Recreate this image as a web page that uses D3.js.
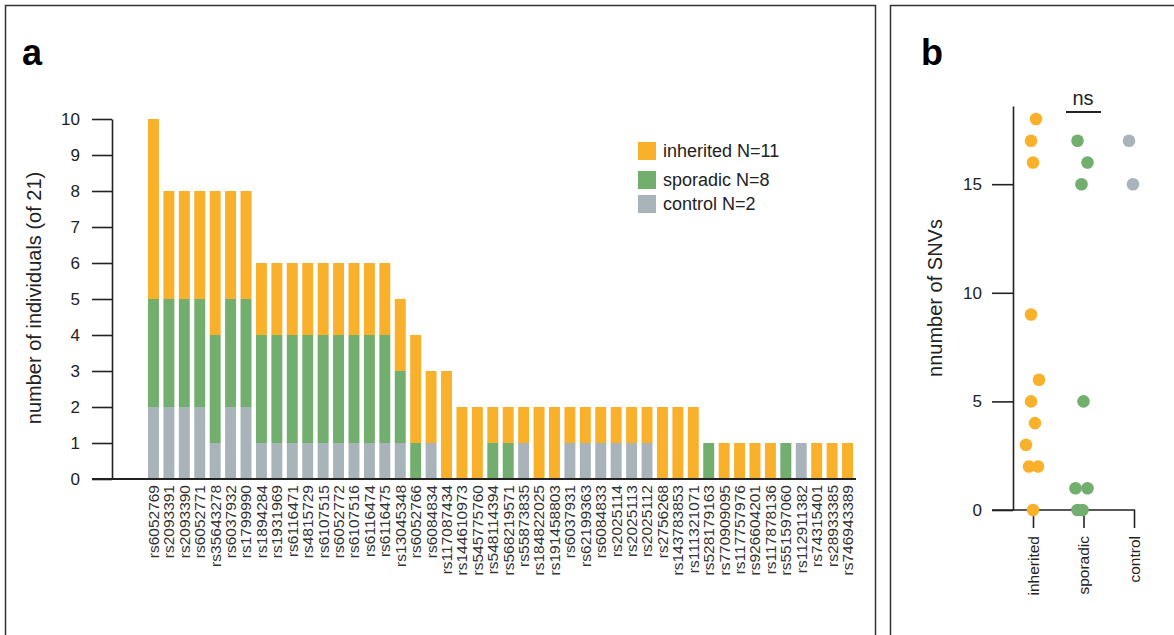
<!DOCTYPE html>
<html>
<head>
<meta charset="utf-8">
<script src="https://cdn.jsdelivr.net/npm/d3@7"></script>
<style>
  body { margin: 0; background: #fff; }
  text { font-family: "Liberation Sans", Arial, sans-serif; fill: #222; }
</style>
</head>
<body>
<div id="chart"></div>
<script>
//data - panel a
var snps = ["rs6052769","rs2093391","rs2093390","rs6052771","rs35643278","rs6037932","rs1799990",
  "rs1894284","rs1931969","rs6116471","rs4815729","rs6107515","rs6052772","rs6107516","rs6116474",
  "rs6116475","rs13045348","rs6052766","rs6084834","rs117087434","rs144610973","rs545775760",
  "rs548114394","rs568219571","rs55873835","rs184822025","rs191458803","rs6037931","rs62199363",
  "rs6084833","rs2025114","rs2025113","rs2025112","rs2756268","rs143783853","rs111321071",
  "rs528179163","rs770909095","rs117757976","rs926604201","rs117878136","rs551597060",
  "rs112911382","rs74315401","rs28933385","rs746943389"];
var controlCounts   = [2,2,2,2,1,2,2,1,1,1,1,1,1,1,1,1,1,0,1,0,0,0,0,0,1,0,0,1,1,1,1,1,1,0,0,0,0,0,0,0,0,0,1,0,0,0];
var sporadicCounts  = [3,3,3,3,3,3,3,3,3,3,3,3,3,3,3,3,2,1,0,0,0,0,1,1,0,0,0,0,0,0,0,0,0,0,0,0,1,0,0,0,0,1,0,0,0,0];
var inheritedCounts = [5,3,3,3,4,3,3,2,2,2,2,2,2,2,2,2,2,3,2,3,2,2,1,1,1,2,2,1,1,1,1,1,1,2,2,2,0,1,1,1,1,0,0,1,1,1];
var yTicksA = [0,1,2,3,4,5,6,7,8,9,10];
var legendLabels = ["inherited N=11", "sporadic N=8", "control N=2"];

//data - panel b
var groups = ["inherited", "sporadic", "control"];
var inheritedSNVs = [18,17,16,9,6,5,4,3,2,2,0];
var sporadicSNVs  = [17,16,15,5,1,1,0,0];
var controlSNVs   = [17,15];
var yTicksB = [0,5,10,15];

//colours
var colors = {inherited: "#F9B12C", sporadic: "#72AE6D", control: "#A8B4BA"};

//reformat data for stacking
var dataset = [];
for (var i = 0; i < snps.length; i++) {
  dataset.push({
    snp: snps[i],
    control: controlCounts[i],
    sporadic: sporadicCounts[i],
    inherited: inheritedCounts[i]
  });
}
var stack = d3.stack().keys(["control", "sporadic", "inherited"]);
var series = stack(dataset);

var svg = d3.select("#chart").append("svg")
  .attr("width", 1174)
  .attr("height", 635);

//panel frames
svg.append("rect")
  .attr("x", 5.5).attr("y", 5.5)
  .attr("width", 870).attr("height", 640)
  .attr("fill", "none").attr("stroke", "#333").attr("stroke-width", 1.5);
svg.append("rect")
  .attr("x", 890.5).attr("y", 5.5)
  .attr("width", 300).attr("height", 640)
  .attr("fill", "none").attr("stroke", "#333").attr("stroke-width", 1.5);

//panel letters
svg.append("text").attr("x", 22).attr("y", 65)
  .style("font-size", "36px").style("font-weight", "bold").style("fill", "#000").text("a");
svg.append("text").attr("x", 921).attr("y", 65)
  .style("font-size", "36px").style("font-weight", "bold").style("fill", "#000").text("b");

// ---------- panel a ----------
var xScale = d3.scaleBand()
  .domain(snps)
  .range([148, 853])
  .paddingInner(0.29)
  .paddingOuter(0);

var yScale = d3.scaleLinear()
  .domain([0, 10])
  .range([479, 119]);

//bars
svg.append("g").selectAll("g")
  .data(series)
  .enter().append("g")
  .attr("fill", function(d) { return colors[d.key]; })
  .selectAll("rect")
  .data(function(d) { return d; })
  .enter().append("rect")
  .attr("x", function(d) { return xScale(d.data.snp); })
  .attr("y", function(d) { return yScale(d[1]); })
  .attr("width", xScale.bandwidth())
  .attr("height", function(d) { return yScale(d[0]) - yScale(d[1]); });

//y axis
var yAxisA = svg.append("g")
  .attr("transform", "translate(112,0)")
  .call(d3.axisLeft(yScale).tickValues(yTicksA).tickSize(20).tickSizeOuter(0).tickPadding(12));
yAxisA.selectAll("path, line").attr("stroke", "#222").attr("stroke-width", 1.6);
yAxisA.selectAll("text").style("font-size", "17px").style("fill", "#222");

//baseline
svg.append("line")
  .attr("x1", 92).attr("x2", 856)
  .attr("y1", yScale(0)).attr("y2", yScale(0))
  .attr("stroke", "#222").attr("stroke-width", 2);

//x labels
var xAxisA = svg.append("g")
  .attr("transform", "translate(0," + yScale(0) + ")")
  .call(d3.axisBottom(xScale).tickSize(0).tickPadding(0));
xAxisA.select(".domain").remove();
xAxisA.selectAll("text")
  .attr("transform", "rotate(-90)")
  .attr("x", -6)
  .attr("y", 0)
  .attr("dy", "0.35em")
  .style("text-anchor", "end")
  .style("font-size", "15.5px")
  .style("fill", "#333");

//y label
svg.append("text")
  .attr("transform", "translate(41,298) rotate(-90)")
  .style("text-anchor", "middle")
  .style("font-size", "20px")
  .text("number of individuals (of 21)");

//legend
var legendKeys = ["inherited", "sporadic", "control"];
var legendY = [142, 171, 195];
legendKeys.forEach(function(k, i) {
  svg.append("rect")
    .attr("x", 638).attr("y", legendY[i])
    .attr("width", 18).attr("height", 18)
    .attr("fill", colors[k]);
  svg.append("text")
    .attr("x", 663).attr("y", legendY[i] + 15)
    .style("font-size", "18px")
    .text(legendLabels[i]);
});

// ---------- panel b ----------
var xb = d3.scalePoint()
  .domain(groups)
  .range([1033, 1134]);

var yb = d3.scaleLinear()
  .domain([0, 18.6])
  .range([510, 106]);

//y axis
var yAxisB = svg.append("g")
  .attr("transform", "translate(1013,0)")
  .call(d3.axisLeft(yb).tickValues(yTicksB).tickSize(21).tickSizeOuter(0).tickPadding(10));
yAxisB.selectAll("path, line").attr("stroke", "#222").attr("stroke-width", 1.6);
yAxisB.selectAll("text").style("font-size", "17px").style("fill", "#222");

//x axis
svg.append("line")
  .attr("x1", 992).attr("x2", 1135)
  .attr("y1", yb(0)).attr("y2", yb(0))
  .attr("stroke", "#222").attr("stroke-width", 1.6);
var xAxisB = svg.append("g")
  .attr("transform", "translate(0," + yb(0) + ")")
  .call(d3.axisBottom(xb).tickSize(18).tickPadding(0));
xAxisB.select(".domain").remove();
xAxisB.selectAll("line").attr("stroke", "#222").attr("stroke-width", 1.6);
xAxisB.selectAll("text")
  .attr("transform", "rotate(-90)")
  .attr("x", -26)
  .attr("y", 0)
  .attr("dy", "0.35em")
  .style("text-anchor", "end")
  .style("font-size", "15.5px")
  .style("fill", "#222");

//y label
svg.append("text")
  .attr("transform", "translate(942,298) rotate(-90)")
  .style("text-anchor", "middle")
  .style("font-size", "20px")
  .text("nnumber of SNVs");

//points, with small horizontal offsets so overlapping dots stay visible
var jitter = {
  inherited: [3,-2,0,-2,6,-2,2,-7,-4,5,0],
  sporadic:  [-6,4,-2,0,-8,4,-6,-1],
  control:   [-5,-1]
};
var points = [];
[[ "inherited", inheritedSNVs ], [ "sporadic", sporadicSNVs ], [ "control", controlSNVs ]].forEach(function(g) {
  g[1].forEach(function(v, i) {
    points.push({group: g[0], value: v, dx: jitter[g[0]][i]});
  });
});
svg.append("g").selectAll("circle")
  .data(points)
  .enter().append("circle")
  .attr("cx", function(d) { return xb(d.group) + d.dx; })
  .attr("cy", function(d) { return yb(d.value); })
  .attr("r", 6.3)
  .attr("fill", function(d) { return colors[d.group]; });

//significance
svg.append("line")
  .attr("x1", 1066).attr("x2", 1101)
  .attr("y1", 112).attr("y2", 112)
  .attr("stroke", "#222").attr("stroke-width", 2);
svg.append("text")
  .attr("x", 1083).attr("y", 105)
  .style("text-anchor", "middle")
  .style("font-size", "20px")
  .text("ns");
</script>
</body>
</html>
